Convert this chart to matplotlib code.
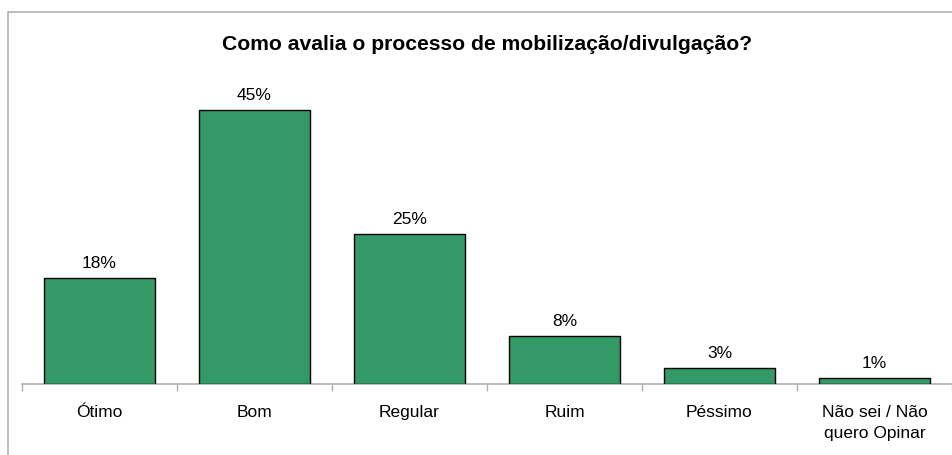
import matplotlib.pyplot as plt
import numpy as np
from matplotlib.patches import Rectangle

# data
categories = ['Ótimo', 'Bom', 'Regular', 'Ruim', 'Péssimo', 'Não sei / Não\nquero Opinar']
values = [17.5, 45, 24.7, 7.9, 2.6, 1.0]
labels = ['18%', '45%', '25%', '8%', '3%', '1%']

plt.rcParams['font.family'] = ['Liberation Sans', 'DejaVu Sans']

W, H = 953, 455
fig = plt.figure(figsize=(W / 100, H / 100), dpi=100)

# axes placement in pixels (left, bottom from top, right, top from top)
ax_l, ax_r, ax_b, ax_t = 22, 952, 384, 60
ax = fig.add_axes([ax_l / W, 1 - ax_b / H, (ax_r - ax_l) / W, (ax_b - ax_t) / H])

x = np.arange(len(categories))
ax.bar(x, values, width=0.72, color='#339966', edgecolor='black', linewidth=1.0, zorder=3)
ax.set_xlim(-0.5, len(categories) - 0.5)
ax.set_ylim(0, (ax_b - ax_t) / 6.08)

for xi, v, lab in zip(x, values, labels):
    ax.annotate(lab, (xi, v), xytext=(0, 5), textcoords='offset points',
                ha='center', va='bottom', fontsize=12.5)

for s in ['top', 'right', 'left']:
    ax.spines[s].set_visible(False)
ax.spines['bottom'].set_color('#b0b0b0')
ax.spines['bottom'].set_linewidth(1.2)
ax.set_yticks([])

# ticks between categories, labels centered
ax.set_xticks(np.arange(-0.5, len(categories), 1.0))
ax.set_xticklabels([])
ax.tick_params(axis='x', which='major', length=5, color='#b0b0b0', width=1)
ax.set_xticks(x, minor=True)
ax.set_xticklabels(categories, minor=True, fontsize=12.5, linespacing=1.5)
ax.tick_params(axis='x', which='minor', length=0, pad=15)

fig.text(487 / W, 1 - 45 / H, 'Como avalia o processo de mobilização/divulgação?',
         ha='center', va='center', fontsize=15.2, fontweight='bold')

# outer chart border (cropped at right and bottom)
fig.patches.append(Rectangle((8 / W, -0.1), 1.1, 1 - 12 / H + 0.1,
                             transform=fig.transFigure, fill=False,
                             edgecolor='#b0b0b0', linewidth=1.2))

fig.savefig('out.png', dpi=100)
